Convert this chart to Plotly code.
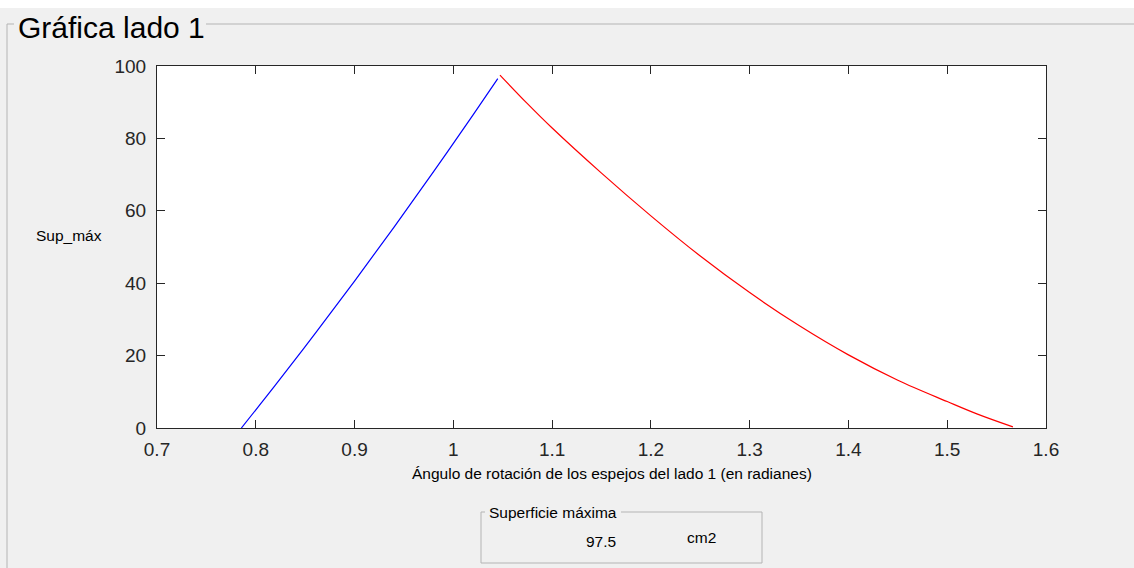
import plotly.graph_objects as go

# ---- data ----
blue_x = [0.7854, 0.82, 0.86, 0.90, 0.94, 0.98, 1.02, 1.045]
blue_y = [0.0, 11.9, 26.1, 40.6, 55.5, 70.8, 86.5, 96.5]

red_x = [1.0472, 1.075, 1.0995, 1.15, 1.2, 1.25, 1.3, 1.35, 1.4, 1.45, 1.5, 1.53, 1.5665]
red_y = [97.5, 89.6, 83.0, 70.4, 58.6, 47.5, 37.4, 28.3, 20.2, 13.2, 7.3, 3.9, 0.3]

x_ticks = [0.7, 0.8, 0.9, 1.0, 1.1, 1.2, 1.3, 1.4, 1.5, 1.6]
x_tick_labels = ["0.7", "0.8", "0.9", "1", "1.1", "1.2", "1.3", "1.4", "1.5", "1.6"]
y_ticks = [0, 20, 40, 60, 80, 100]
y_tick_labels = ["0", "20", "40", "60", "80", "100"]

panel_title = "Gráfica lado 1"
x_title = "Ángulo de rotación de los espejos del lado 1 (en radianes)"
y_title = "Sup_máx"
box_title = "Superficie máxima"
box_value = "97.5"
box_unit = "cm2"

# ---- layout geometry (pixels) ----
W, H = 1134, 568
L, R, T, B = 157, 1046, 66, 428
PW, PH = R - L, B - T


def px(x):
    return (x - L) / PW


def py(y):
    return (B - y) / PH


FONT = "Liberation Sans, Arial, sans-serif"
GREY = "#f0f0f0"
EDGE = "#b4b4b4"

fig = go.Figure()
fig.add_trace(go.Scatter(x=blue_x, y=blue_y, mode="lines", line=dict(color="#0000ff", width=1.2, shape="spline", smoothing=1.0), hoverinfo="skip", showlegend=False))
fig.add_trace(go.Scatter(x=red_x, y=red_y, mode="lines", line=dict(color="#ff0000", width=1.2, shape="spline", smoothing=1.0), hoverinfo="skip", showlegend=False))

axis_common = dict(
    showgrid=False, zeroline=False, showline=True, linecolor="#262626", linewidth=1,
    mirror="ticks", ticks="inside", ticklen=8, tickwidth=1, tickcolor="#262626",
    tickfont=dict(family=FONT, size=19, color="#262626"),
)

fig.update_layout(
    width=W, height=H,
    margin=dict(l=L, r=W - R, t=T, b=H - B, pad=0),
    paper_bgcolor=GREY, plot_bgcolor="white",
    xaxis=dict(range=[0.7, 1.6], tickvals=x_ticks, ticktext=x_tick_labels, ticklabelstandoff=4, **axis_common),
    yaxis=dict(range=[0, 100], tickvals=y_ticks, ticktext=y_tick_labels, ticklabelstandoff=6, **axis_common),
    showlegend=False,
)

shapes = []
# white strip at top
shapes.append(dict(type="rect", xref="paper", yref="paper", x0=px(-5), x1=px(W + 5), y0=py(-5), y1=py(8), fillcolor="white", line=dict(width=0), layer="below"))
# panel borders
shapes.append(dict(type="line", xref="paper", yref="paper", x0=px(7), x1=px(7), y0=py(24), y1=py(H + 5), line=dict(color=EDGE, width=1)))
shapes.append(dict(type="line", xref="paper", yref="paper", x0=px(7), x1=px(14), y0=py(24), y1=py(24), line=dict(color=EDGE, width=1)))
shapes.append(dict(type="line", xref="paper", yref="paper", x0=px(206), x1=px(W + 5), y0=py(24), y1=py(24), line=dict(color=EDGE, width=1)))
# small result box
shapes.append(dict(type="line", xref="paper", yref="paper", x0=px(481), x1=px(485), y0=py(512), y1=py(512), line=dict(color=EDGE, width=1)))
shapes.append(dict(type="line", xref="paper", yref="paper", x0=px(621), x1=px(762), y0=py(512), y1=py(512), line=dict(color=EDGE, width=1)))
shapes.append(dict(type="line", xref="paper", yref="paper", x0=px(481), x1=px(481), y0=py(512), y1=py(563), line=dict(color=EDGE, width=1)))
shapes.append(dict(type="line", xref="paper", yref="paper", x0=px(762), x1=px(762), y0=py(512), y1=py(563), line=dict(color=EDGE, width=1)))
shapes.append(dict(type="line", xref="paper", yref="paper", x0=px(481), x1=px(762), y0=py(563), y1=py(563), line=dict(color=EDGE, width=1)))
fig.update_layout(shapes=shapes)

ann = [
    dict(text=panel_title, x=px(16), y=py(28), xanchor="left", yanchor="middle", font=dict(family=FONT, size=30, color="black")),
    dict(text=x_title, x=px(612), y=py(473), xanchor="center", yanchor="middle", font=dict(family=FONT, size=15.5, color="black")),
    dict(text=y_title, x=px(69), y=py(235), xanchor="center", yanchor="middle", font=dict(family=FONT, size=15.5, color="black")),
    dict(text=box_title, x=px(487), y=py(512), xanchor="left", yanchor="middle", font=dict(family=FONT, size=15.5, color="black")),
    dict(text=box_value, x=px(601), y=py(541), xanchor="center", yanchor="middle", font=dict(family=FONT, size=15.5, color="black")),
    dict(text=box_unit, x=px(701), y=py(537), xanchor="center", yanchor="middle", font=dict(family=FONT, size=15.5, color="black")),
]
for a in ann:
    a.update(xref="paper", yref="paper", showarrow=False)
fig.update_layout(annotations=ann)

fig.write_html("out.html", config={"displayModeBar": False}, post_script="document.body.style.margin='0px';")
